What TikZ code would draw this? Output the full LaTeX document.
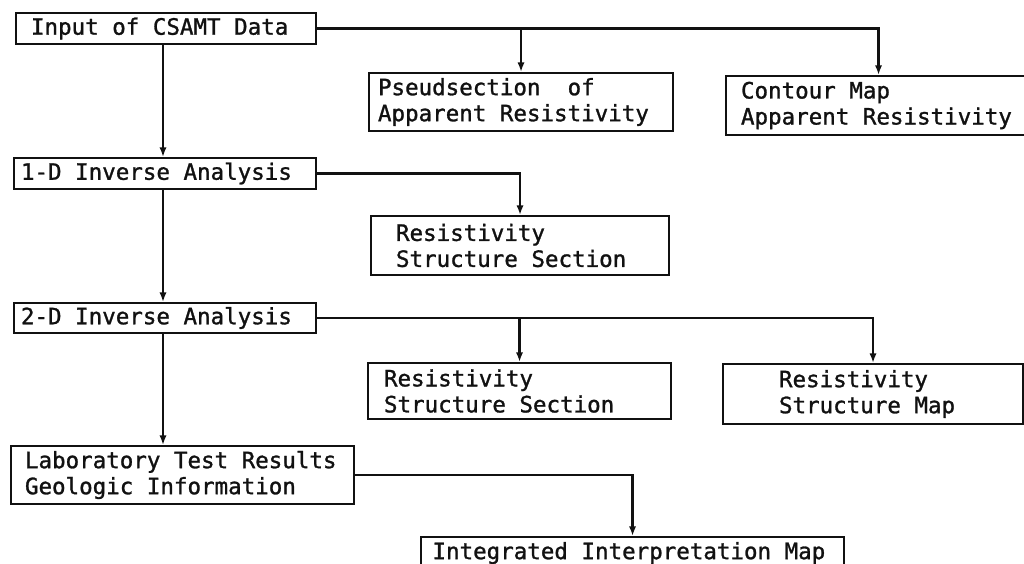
\documentclass[tikz,border=0pt]{standalone}
\usepackage{fontspec}
\newfontfamily\flujofont[FakeBold=1.2]{DejaVu Sans Mono}
\usepackage{tikz}
\usetikzlibrary{arrows.meta,positioning,calc}
\usepackage{xcolor}
\definecolor{Ink}{HTML}{111111}
\definecolor{Paper}{HTML}{FFFFFF}

\begin{document}
\begin{tikzpicture}[>=Latex,x=0.025cm,y=-0.025cm,
  caja/.style={draw=Ink,line width=1.4pt,anchor=north west,align=left,
    inner ysep=0pt,text=Ink,font=\flujofont\fontsize{16}{18.5}\selectfont,
    execute at begin node={\spaceskip=0.602em\xspaceskip=0.602em\relax}},
  flecha/.style={->,line width=1.5pt,draw=Ink,>={Latex[length=2.4mm,width=1.8mm]}}]
  % Marco de la figura en pixeles de la referencia.
  \useasboundingbox[fill=Paper] (0,0) rectangle (1024,564);
  \coordinate (tronco) at (163,0);

  % Columna principal de pasos.
  \node[caja,minimum width=7.5cm,minimum height=0.775cm,inner xsep=0.375cm,text width=6.75cm]
    (entrada) at (15,12) {Input of CSAMT Data};
  \node[caja,minimum width=7.55cm,minimum height=0.775cm,inner xsep=0.175cm,text width=7.2cm]
    (uno) at (13,157) {1-D Inverse Analysis};
  \node[caja,minimum width=7.55cm,minimum height=0.75cm,inner xsep=0.175cm,text width=7.2cm]
    (dos) at (13,302) {2-D Inverse Analysis};
  \node[caja,minimum width=8.575cm,minimum height=1.45cm,inner xsep=0.35cm,text width=7.875cm]
    (lab) at (10,445) {Laboratory Test Results\\Geologic Information};

  % Resultados a la derecha.
  \node[caja,minimum width=7.6cm,minimum height=1.45cm,inner xsep=0.225cm,text width=7.15cm]
    (pseudo) at (368,72) {Pseudsection~~of\\Apparent Resistivity};
  \node[caja,minimum width=7.625cm,minimum height=1.475cm,inner xsep=0.375cm,text width=6.875cm]
    (contorno) at (725,75) {Contour Map\\Apparent Resistivity};
  \node[caja,minimum width=7.45cm,minimum height=1.475cm,inner xsep=0.625cm,text width=6.2cm]
    (secuno) at (370,215) {Resistivity\\Structure Section};
  \node[caja,minimum width=7.575cm,minimum height=1.4cm,inner xsep=0.4cm,text width=6.775cm]
    (secdos) at (367,362) {Resistivity\\Structure Section};
  \node[caja,minimum width=7.5cm,minimum height=1.5cm,inner xsep=1.4cm,text width=4.7cm]
    (mapa) at (722,363) {Resistivity\\Structure Map};
  \node[caja,minimum width=10.575cm,minimum height=0.8cm,inner xsep=0.2875cm,text width=10cm]
    (integ) at (420,536) {Integrated Interpretation Map};

  % Flechas del tronco.
  \draw[flecha] (entrada.south -| tronco) -- (uno.north -| tronco);
  \draw[flecha] (uno.south -| tronco) -- (dos.north -| tronco);
  \draw[flecha] (dos.south -| tronco) -- (lab.north -| tronco);

  % Ramas hacia los resultados.
  \draw[flecha] (entrada.east) -| (contorno.north);
  \draw[flecha] (pseudo.north |- entrada.east) -- (pseudo.north);
  \draw[flecha] (uno.east) -| (secuno.north);
  \draw[flecha] (dos.east) -| (mapa.north);
  \draw[flecha] (secdos.north |- dos.east) -- (secdos.north);
  \draw[flecha] (lab.east) -| (integ.north);
\end{tikzpicture}
\end{document}
